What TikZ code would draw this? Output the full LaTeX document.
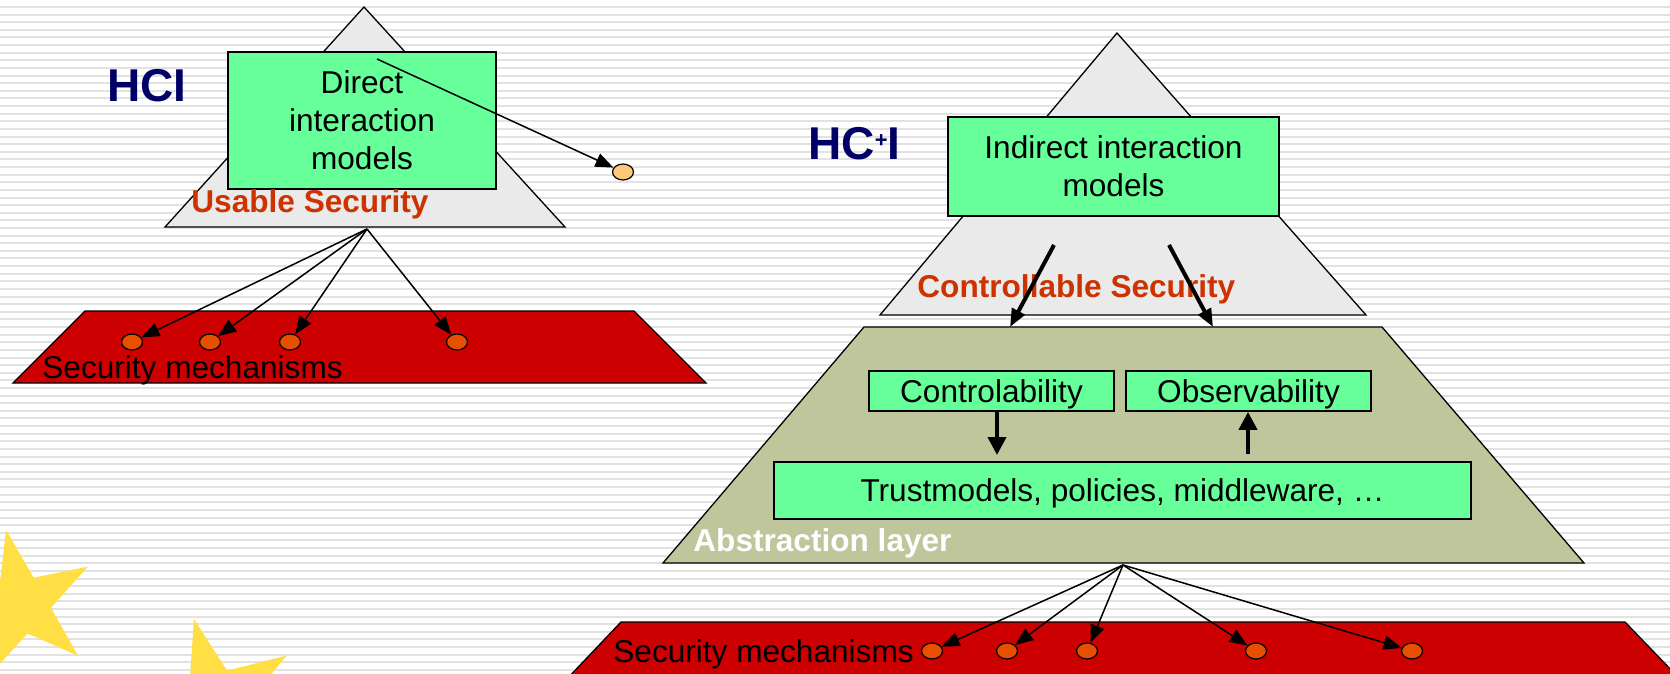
\documentclass[tikz,border=0pt]{standalone}
\usepackage{fontspec}
\setmainfont{Liberation Sans}
\usetikzlibrary{arrows.meta,shapes.geometric}
\definecolor{navy}{RGB}{0,0,102}
\definecolor{secorange}{RGB}{204,51,0}
\definecolor{trigrey}{RGB}{234,234,234}
\definecolor{boxgreen}{RGB}{102,255,153}
\definecolor{mechred}{RGB}{204,0,0}
\definecolor{olive}{RGB}{192,198,156}
\definecolor{dotorange}{RGB}{230,80,0}
\definecolor{dotlight}{RGB}{255,200,120}
\definecolor{stripecol}{RGB}{226,226,226}
\definecolor{staryellow}{RGB}{255,223,68}
\begin{document}
\begin{tikzpicture}[x=0.5pt,y=-0.5pt,
  tri/.style={fill=trigrey,draw=black,line width=0.65pt},
  plate/.style={draw=black,line width=0.65pt},
  gbox/.style={draw=black,fill=boxgreen,line width=0.9pt,inner sep=0pt,align=center,font=\fontsize{15.8}{19}\selectfont},
  lbl/.style={inner sep=0pt,font=\fontsize{15.8}{19}\selectfont},
  blbl/.style={inner sep=0pt,font=\bfseries\fontsize{15.8}{19}\selectfont},
  dot/.style={ellipse,draw=black,line width=0.6pt,fill=dotorange,minimum width=10.5pt,minimum height=8pt,inner sep=0pt},
  fan/.style={-{Triangle[length=9pt,width=7pt]},line width=0.75pt},
  boldarrow/.style={-{Triangle[length=9pt,width=7pt]},line width=2pt},
  midarrow/.style={-{Triangle[length=9pt,width=9pt]},line width=2pt}]
\useasboundingbox (0,0) rectangle (1670,674);
\begin{scope}
\clip (0,0) rectangle (1670,674);
\fill[white] (0,0) rectangle (1670,674);
\foreach \i in {0,...,88} \fill[stripecol] (0,{6+7.62*\i}) rectangle (1670,{8+7.62*\i});
% stars
\fill[staryellow] ({21.6+76.3*cos(101.8)},{604.6-76.3*sin(101.8)})
  \foreach \k in {0,...,4}{ -- ({21.6+29.5*cos(137.8+72*\k)},{604.6-29.5*sin(137.8+72*\k)})
   -- ({21.6+76.3*cos(173.8+72*\k)},{604.6-76.3*sin(173.8+72*\k)}) } -- cycle;
\fill[staryellow] ({215+84.7*cos(104.4)},{701-84.7*sin(104.4)})
  \foreach \k in {0,...,4}{ -- ({215+32.7*cos(140.4+72*\k)},{701-32.7*sin(140.4+72*\k)})
   -- ({215+84.7*cos(176.4+72*\k)},{701-84.7*sin(176.4+72*\k)}) } -- cycle;

% ---------- left part ----------
\filldraw[tri] (364,7) -- (565,227) -- (165,227) -- cycle;
\coordinate (lsrc) at (367,229);
\node[gbox,minimum width=134pt,minimum height=68.5pt] (dim) at (362,120.5) {Direct\\interaction\\models};
\node[blbl,text=secorange,anchor=base west] (usable) at (191,212) {Usable Security};
\node[inner sep=0pt,font=\bfseries\fontsize{23}{23}\selectfont,text=navy,anchor=base west] (hci) at (107,102) {HCI};
\filldraw[plate,fill=mechred] (85,311) -- (634,311) -- (706,383) -- (13,383) -- cycle;
\node[lbl,anchor=base west] (sm1) at (42,378) {Security mechanisms};
\node[dot] (l1) at (132,342) {};
\node[dot] (l2) at (210,342) {};
\node[dot] (l3) at (290,342) {};
\node[dot] (l4) at (457,342) {};
\node[dot,fill=dotlight] (lx) at (623,172) {};
\coordinate (dsrc) at (377,59);
\draw[fan] (dsrc) -- (lx);
\foreach \n in {l1,l2,l3,l4} \draw[fan] (lsrc) -- (\n);

% ---------- right part ----------
\filldraw[tri] (1117,33) -- (1366,315) -- (880,315) -- cycle;
\node[gbox,minimum width=165.5pt,minimum height=49.5pt] (iim) at (1113.5,166.5) {Indirect interaction\\models};
\node[inner sep=0pt,font=\bfseries\fontsize{23}{23}\selectfont,text=navy,anchor=base west] (hcpi) at (808,160) {HC{\fontsize{11}{11}\selectfont\raisebox{6pt}{+}}I};
\node[blbl,text=secorange,anchor=base west] (ctrlsec) at (917,297) {Controllable Security};
\filldraw[plate,fill=olive] (864,327) -- (1382,327) -- (1584,563) -- (663,563) -- cycle;
\coordinate (ba1s) at (1054,245);
\coordinate (ba1e) at (1010,327);
\coordinate (ba2s) at (1169,245);
\coordinate (ba2e) at (1213,327);
\draw[boldarrow] (ba1s) -- (ba1e);
\draw[boldarrow] (ba2s) -- (ba2e);
\node[gbox,text depth=0pt,minimum width=122.5pt,minimum height=20pt] (ctrl) at (991.5,391) {Controlability};
\node[gbox,text depth=0pt,minimum width=122.5pt,minimum height=20pt] (obs) at (1248.5,391) {Observability};
\node[gbox,text depth=0pt,minimum width=348.5pt,minimum height=28.5pt] (trust) at (1122.5,490.5) {Trustmodels, policies, middleware, …};
\coordinate (ce) at (997,455);
\coordinate (os) at (1248,454);
\draw[midarrow] (ctrl.south -| ce) -- (ce);
\draw[midarrow] (os) -- (obs.south -| os);
\node[blbl,text=white,anchor=base west] (abs) at (693,551) {Abstraction layer};
\coordinate (rsrc) at (1123,565);
\filldraw[plate,fill=mechred] (621,622) -- (1625,622) -- (1700,700) -- (547,700) -- cycle;
\node[lbl,anchor=base west] (sm2) at (613,662) {Security mechanisms};
\node[dot] (r1) at (932,651) {};
\node[dot] (r2) at (1007,651) {};
\node[dot] (r3) at (1087,651) {};
\node[dot] (r4) at (1256,651) {};
\node[dot] (r5) at (1412,651) {};
\foreach \n in {r1,r2,r3,r4,r5} \draw[fan] (rsrc) -- (\n);
\end{scope}
\end{tikzpicture}
\end{document}
